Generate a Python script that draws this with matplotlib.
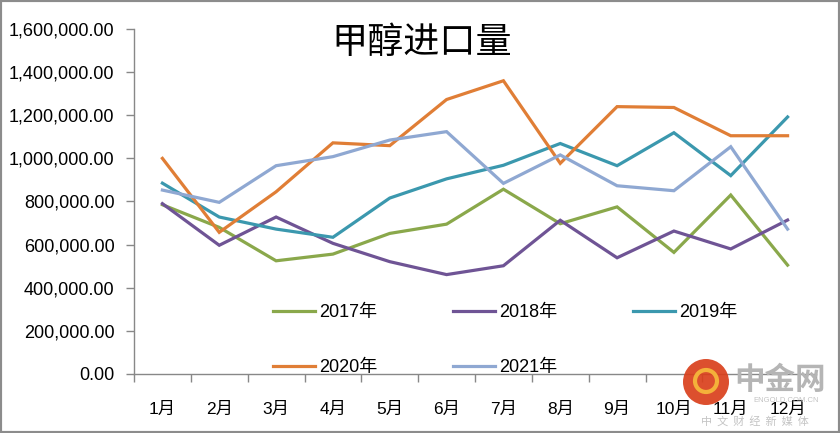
import matplotlib
matplotlib.use("Agg")
import matplotlib.pyplot as plt
from matplotlib.patches import Rectangle, Ellipse

months = ["1月", "2月", "3月", "4月", "5月", "6月", "7月", "8月", "9月", "10月", "11月", "12月"]
y2017 = [785000, 680000, 525000, 556000, 652000, 695000, 857000, 697000, 775000, 564000, 830000, 505000]
y2018 = [790000, 597000, 728000, 606000, 521000, 461000, 502000, 713000, 539000, 663000, 580000, 714000]
y2019 = [885000, 728000, 672000, 634000, 816000, 905000, 968000, 1069000, 966000, 1119000, 920000, 1192000]
y2020 = [1000000, 657000, 845000, 1072000, 1059000, 1273000, 1360000, 977000, 1240000, 1236000, 1105000, 1105000]
y2021 = [853000, 796000, 966000, 1008000, 1085000, 1124000, 884000, 1016000, 873000, 850000, 1054000, 672000]
series_names = ["2017年", "2018年", "2019年", "2020年", "2021年"]
yticks = [0, 200000, 400000, 600000, 800000, 1000000, 1200000, 1400000, 1600000]
title = "甲醇进口量"

colors = ["#8aa84b", "#6f5495", "#3b98ae", "#e07e36", "#8fa8d2"]
fam = ["Liberation Sans", "Noto Sans CJK SC", "DejaVu Sans"]
plt.rcParams["font.family"] = fam

W, H = 840, 433
fig = plt.figure(figsize=(W / 100, H / 100), dpi=100)
ax = fig.add_axes([134 / W, 1 - 374 / H, (816 - 134) / W, (374 - 29) / H])

x = list(range(len(months)))
handles = []
for vals, c, name in zip([y2017, y2018, y2019, y2020, y2021], colors, series_names):
    h, = ax.plot(x, vals, color=c, lw=2.3, label=name, solid_joinstyle="miter")
    handles.append(h)

ax.set_xlim(-0.5, len(months) - 0.5)
ax.set_ylim(0, 1600000)
ax.set_yticks(yticks)
ax.set_yticklabels([f"{v:,.2f}" for v in yticks])
ax.set_xticks(x)
ax.set_xticklabels(months)
ax.set_xticks([i - 0.5 for i in range(len(months) + 1)], minor=True)
ax.tick_params(axis="x", which="major", length=0, pad=20, labelsize=12.5, colors="black")
ax.tick_params(axis="x", which="minor", length=6, direction="out", color="#888888", width=1)
ax.tick_params(axis="y", which="major", length=6, direction="out", color="#888888", width=1, pad=8, labelsize=13)
for s in ["top", "right"]:
    ax.spines[s].set_visible(False)
for s in ["left", "bottom"]:
    ax.spines[s].set_color("#888888")
    ax.spines[s].set_linewidth(1)

order = [0, 3, 1, 4, 2]
fig.legend([handles[i] for i in order], [series_names[i] for i in order],
           ncol=3, loc="upper left", bbox_to_anchor=(273 / W, 1 - 304 / H),
           bbox_transform=fig.transFigure, frameon=False, fontsize=13,
           handlelength=2.3, handletextpad=0.25, columnspacing=4.2,
           labelspacing=2.1, borderpad=0, borderaxespad=0)

fig.text(422 / W, 1 - 43 / H, title, ha="center", va="center", fontsize=26,
         family=["Noto Sans CJK SC"], color="black")

# watermark
fig.patches.append(Ellipse((706 / W, 1 - 382 / H), 46 / W, 46 / H, transform=fig.transFigure,
                           facecolor="#d9401c", edgecolor="none", alpha=0.92))
fig.patches.append(Ellipse((706 / W, 1 - 381 / H), 22 / W, 22 / H, transform=fig.transFigure,
                           facecolor="none", edgecolor="#f4b13a", linewidth=3))
fig.text(780 / W, 1 - 380 / H, "中金网", ha="center", va="center", fontsize=22,
         family=["Noto Sans CJK SC"], color="#b5b5b5", weight="bold")
fig.text(786 / W, 1 - 401 / H, "ENGOLD.COM.CN", ha="center", va="center", fontsize=5.5,
         color="#c4c4c4")
fig.text(755 / W, 1 - 421 / H, "中  文  财  经  新  媒  体", ha="center", va="center", fontsize=8,
         family=["Noto Sans CJK SC"], color="#c4c4c4")

fig.patches.append(Rectangle((0, 0), 1, 1, transform=fig.transFigure, fill=False,
                             edgecolor="#8c8c8c", linewidth=3))

fig.savefig("out.png", dpi=100)
